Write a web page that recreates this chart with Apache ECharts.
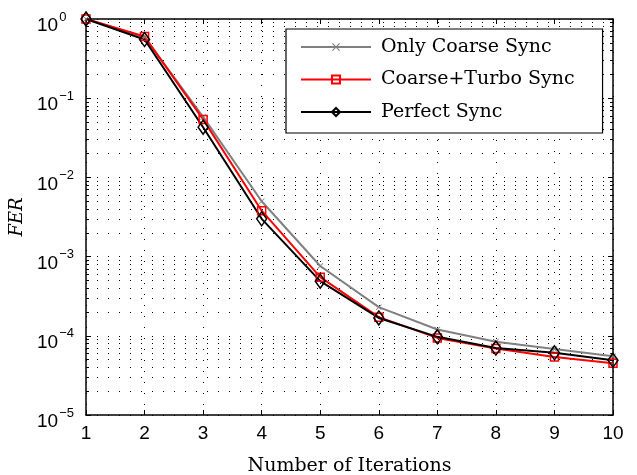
<!DOCTYPE html>
<html>
<head>
    <meta charset="utf-8" />
    <title>FER vs iterations</title>
    <script type="text/javascript" src="https://cdn.jsdelivr.net/npm/echarts@6/dist/echarts.min.js"></script>
    <style>
        html, body { margin: 0; padding: 0; background: #fff; }
        #main { width: 637px; height: 475px; }
    </style>
</head>
<body>
    <div id="main"></div>
    <script type="text/javascript">
        // values
        var iterations = [1, 2, 3, 4, 5, 6, 7, 8, 9, 10];
        var onlyCoarse = [1, 0.59, 0.058, 0.0050, 0.00076, 0.00023, 0.00012, 0.000084, 0.000068, 0.000055];
        var coarseTurbo = [1, 0.60, 0.054, 0.0038, 0.00055, 0.000172, 0.000094, 0.000069, 0.000054, 0.000045];
        var perfect = [1, 0.55, 0.043, 0.0030, 0.00049, 0.000168, 0.000097, 0.000070, 0.000061, 0.000049];
        var seriesNames = ['Only Coarse Sync', 'Coarse+Turbo Sync', 'Perfect Sync'];

        function pairs(ys) {
            return iterations.map(function (x, i) { return [x, ys[i]]; });
        }

        var dotted = { color: '#000', width: 1, type: [1, 10] };
        var frame = { color: '#000', width: 1.5 };
        var xMark = 'path://M0,1L1,0L5,4L9,0L10,1L6,5L10,9L9,10L5,6L1,10L0,9L4,5Z';

        var chart = echarts.init(document.getElementById('main'), null, { renderer: 'canvas' });
        var option = {
            backgroundColor: '#fff',
            animation: false,
            grid: { left: 86, right: 24, top: 19, bottom: 60, outerBoundsMode: 'none', containLabel: false },
            legend: {
                orient: 'vertical',
                left: 286,
                top: 29,
                padding: [8.5, 28, 11.5, 14],
                itemWidth: 70,
                itemHeight: 10,
                itemGap: 13.5,
                backgroundColor: '#fff',
                borderColor: '#000',
                borderWidth: 1.2,
                borderRadius: 0,
                textStyle: {
                    fontFamily: 'DejaVu Serif',
                    fontSize: 19,
                    color: '#000',
                    width: 200,
                    padding: [0, 0, 0, 5]
                },
                data: seriesNames
            },
            xAxis: [{
                type: 'value',
                min: 1,
                max: 10,
                interval: 1,
                name: 'Number of Iterations',
                nameLocation: 'middle',
                nameGap: 42,
                nameTextStyle: { fontFamily: 'DejaVu Serif', fontSize: 19, color: '#000' },
                axisLine: { lineStyle: frame },
                axisTick: { inside: true, length: 5, lineStyle: { color: '#000' } },
                axisLabel: { color: '#000', fontFamily: 'Liberation Sans', fontSize: 19, margin: 9 },
                splitLine: { show: true, lineStyle: dotted }
            }, {
                type: 'value',
                position: 'top',
                min: 1,
                max: 10,
                interval: 1,
                axisLine: { lineStyle: frame },
                axisTick: { inside: true, length: 5, lineStyle: { color: '#000' } },
                axisLabel: { show: false },
                splitLine: { show: false }
            }],
            yAxis: [{
                type: 'log',
                logBase: 10,
                min: 1e-5,
                max: 1,
                splitNumber: 5,
                name: 'FER',
                nameLocation: 'middle',
                nameGap: 56,
                nameTextStyle: { fontFamily: 'DejaVu Serif', fontStyle: 'italic', fontSize: 18, color: '#000' },
                axisLine: { show: true, lineStyle: frame },
                axisTick: { show: true, inside: true, length: 5, lineStyle: { color: '#000' } },
                minorTick: { show: true, splitNumber: 9, length: 3, lineStyle: { color: '#000' } },
                splitLine: { show: true, lineStyle: dotted },
                minorSplitLine: { show: true, lineStyle: dotted },
                axisLabel: {
                    align: 'left',
                    margin: 49,
                    padding: [14, 0, 0, 0],
                    formatter: function (v) {
                        var e = Math.round(Math.log(v) / Math.LN10);
                        return '{b|10}{s|' + (e < 0 ? '\u2212' + (-e) : e) + '}';
                    },
                    rich: {
                        b: { fontFamily: 'Liberation Sans', fontSize: 19, color: '#000' },
                        s: { fontFamily: 'Liberation Sans', fontSize: 13, color: '#000', padding: [0, 0, 18, 1] }
                    }
                }
            }, {
                type: 'log',
                logBase: 10,
                min: 1e-5,
                max: 1,
                splitNumber: 5,
                position: 'right',
                axisLine: { show: true, lineStyle: frame },
                axisTick: { show: true, inside: true, length: 5, lineStyle: { color: '#000' } },
                minorTick: { show: true, splitNumber: 9, length: 3, lineStyle: { color: '#000' } },
                axisLabel: { show: false },
                splitLine: { show: false }
            }],
            series: [{
                name: seriesNames[0],
                type: 'line',
                data: pairs(onlyCoarse),
                symbol: xMark,
                symbolSize: 6,
                lineStyle: { color: '#808080', width: 2 },
                itemStyle: { color: '#808080' }
            }, {
                name: seriesNames[1],
                type: 'line',
                data: pairs(coarseTurbo),
                symbol: 'rect',
                symbolSize: 8,
                lineStyle: { color: '#ff0000', width: 2 },
                itemStyle: { color: 'rgba(255,255,255,0)', borderColor: '#ff0000', borderWidth: 1.5 }
            }, {
                name: seriesNames[2],
                type: 'line',
                data: pairs(perfect),
                symbol: 'diamond',
                symbolSize: [10, 14],
                lineStyle: { color: '#000', width: 2 },
                itemStyle: { color: 'rgba(255,255,255,0)', borderColor: '#000', borderWidth: 1.5 }
            }]
        };
        chart.setOption(option);
    </script>
</body>
</html>
